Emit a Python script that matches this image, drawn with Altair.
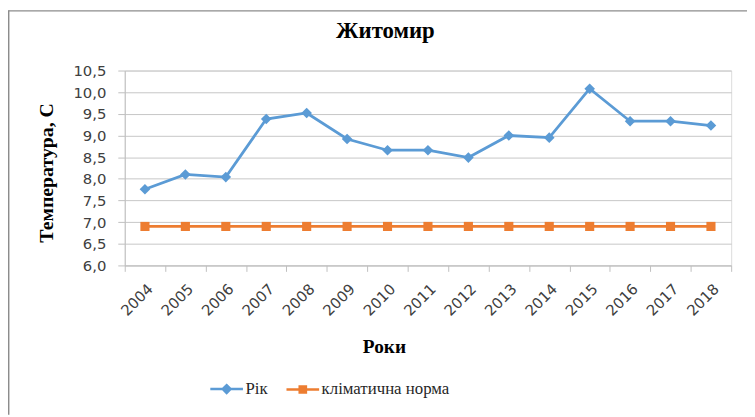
import altair as alt
import pandas as pd

years = [str(y) for y in range(2004, 2019)]
rik = [7.76, 8.1, 8.04, 9.38, 9.52, 8.92, 8.66, 8.66, 8.49, 9.0, 8.95, 10.08, 9.33, 9.33, 9.23]
norma = [6.9] * 15
series_names = ["Рік", "кліматична норма"]
colors = ["#5B9BD5", "#ED7D31"]
y_ticks = [6.0, 6.5, 7.0, 7.5, 8.0, 8.5, 9.0, 9.5, 10.0, 10.5]

rows = []
for yr, v in zip(years, rik):
    rows.append({"year": yr, "value": v, "series": series_names[0]})
for yr, v in zip(years, norma):
    rows.append({"year": yr, "value": v, "series": series_names[1]})
df = pd.DataFrame(rows)

LABEL_FONT = "DejaVu Sans"
SERIF = "Liberation Serif"

x_enc = alt.X(
    "year:N",
    sort=years,
    scale=alt.Scale(paddingInner=0, paddingOuter=0),
    axis=alt.Axis(
        title="Роки",
        titleFont=SERIF, titleFontSize=19.5, titleFontWeight="bold", titleColor="#000000",
        titleX=262, titleY=88, titleAlign="center", titleBaseline="alphabetic",
        labelAngle=315, labelFont=LABEL_FONT, labelFontSize=15, labelColor="#404040",
        labelPadding=10, tickBand="extent", tickSize=6, tickColor="#BFBFBF",
        domainColor="#BFBFBF", grid=False,
    ),
)
y_enc = alt.Y(
    "value:Q",
    scale=alt.Scale(domain=[6.0, 10.5], nice=False, zero=False),
    axis=alt.Axis(
        title="Температура, С",
        titleFont=SERIF, titleFontSize=20, titleFontWeight="bold", titleColor="#000000",
        titleX=-79, titleY=103, titleAngle=270, titleAlign="center", titleBaseline="middle",
        values=y_ticks, labelExpr="replace(format(datum.value, '.1f'), '.', ',')",
        labelFont=LABEL_FONT, labelFontSize=15, labelColor="#404040", labelPadding=12,
        tickSize=7, tickColor="#BFBFBF", domainColor="#BFBFBF",
        grid=True, gridColor="#C6C6C6", gridWidth=1,
    ),
)
color_scale = alt.Scale(domain=series_names, range=colors)

base = alt.Chart(df)

legend_paths = [
    "M-1,0L1,0M0,-0.24L0.24,0L0,0.24L-0.24,0Z",
    "M-1,0L1,0M-0.19,-0.19L0.19,-0.19L0.19,0.19L-0.19,0.19Z",
]
leg = alt.Legend(
    title=None, orient="none", direction="horizontal", legendX=85, legendY=304,
    labelFont=SERIF, labelFontSize=17, labelColor="#262626", labelOffset=1,
    symbolSize=1089, symbolStrokeWidth=2.5, symbolOpacity=1, columnPadding=13, padding=0,
)
legend_layer = base.mark_point(filled=True, opacity=0).encode(
    x=x_enc, y=y_enc,
    color=alt.Color("series:N", scale=color_scale, legend=leg),
    stroke=alt.Stroke("series:N", scale=alt.Scale(domain=series_names, range=colors), legend=leg),
    shape=alt.Shape("series:N", scale=alt.Scale(domain=series_names, range=legend_paths), legend=leg),
)

lines = base.mark_line(strokeWidth=2.8).encode(
    x=x_enc, y=y_enc,
    color=alt.Color("series:N", scale=color_scale),
    detail="series:N",
)
diamonds = base.transform_filter(alt.datum.series == series_names[0]).mark_point(
    shape="diamond", filled=True, size=115, opacity=1
).encode(x=x_enc, y=y_enc, color=alt.Color("series:N", scale=color_scale))
squares = base.transform_filter(alt.datum.series == series_names[1]).mark_point(
    shape="square", filled=True, size=85, opacity=1
).encode(x=x_enc, y=y_enc, color=alt.Color("series:N", scale=color_scale))

# chart frame (decoration, top and left edges)
frame_top = alt.Chart().mark_rule(color="#8C8C8C", strokeWidth=1.5).encode(
    x=alt.value(-117.5), x2=alt.value(629), y=alt.value(-60.3)
)
frame_left = alt.Chart().mark_rule(color="#8C8C8C", strokeWidth=1.5).encode(
    x=alt.value(-117.3), y=alt.value(-61), y2=alt.value(348)
)

chart = alt.layer(legend_layer, lines, diamonds, squares, frame_top, frame_left).properties(
    width=613, height=197,
    title=alt.TitleParams(
        "Житомир", font=SERIF, fontSize=23, fontWeight="bold", color="#000000",
        anchor="middle", frame="group", dx=-43, offset=-51.5, baseline="alphabetic",
    ),
    padding={"left": 118, "top": 61, "right": 16, "bottom": 151},
    autosize=alt.AutoSizeParams(type="none"),
).configure_view(stroke=None).configure_legend(
    labelFont=SERIF, labelFontSize=17, labelColor="#262626"
).configure(background="white")

chart.save("out.html", embed_options={"renderer": "svg", "actions": False})
